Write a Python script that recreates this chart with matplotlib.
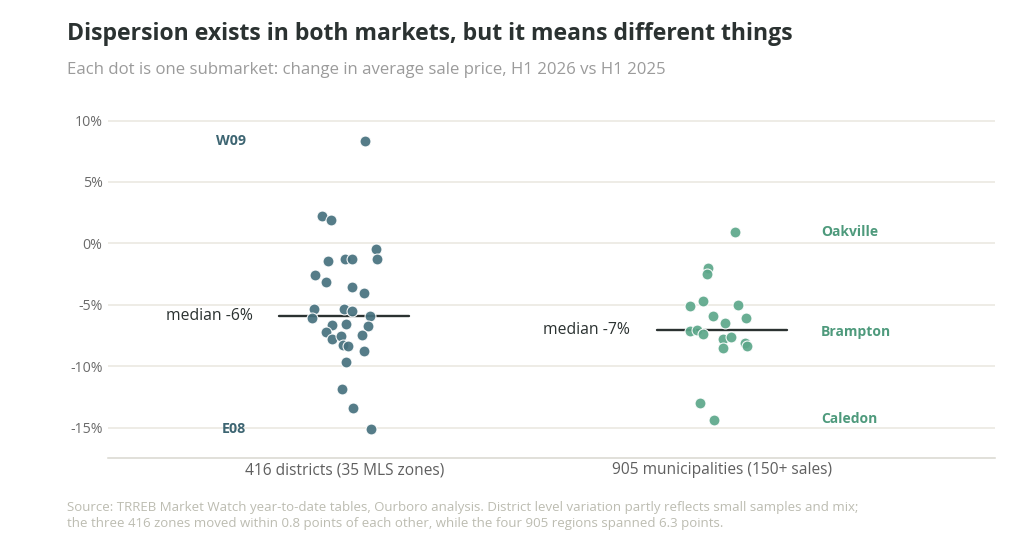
import numpy as np
import matplotlib
matplotlib.use("Agg")
import matplotlib.pyplot as plt

# change in average sale price, H1 2026 vs H1 2025 (%)
groups = ["416 districts (35 MLS zones)", "905 municipalities (150+ sales)"]

chg_416 = [8.34, 2.24, 1.89, -0.49, -1.25, -1.41, -1.25, -1.25, -2.58, -3.12,
           -3.53, -4.01, -5.34, -5.37, -5.50, -6.10, -5.91, -6.67, -6.59, -6.72,
           -7.18, -7.75, -7.51, -7.48, -8.29, -8.35, -8.78, -9.67, -11.82, -13.41,
           -15.07]
jit_416 = [0.055, -0.058, -0.036, 0.084, 0.086, -0.042, 0.002, 0.021, -0.078, -0.048,
           0.021, 0.051, -0.080, 0.000, 0.020, -0.085, 0.067, -0.033, 0.004, 0.063,
           -0.047, -0.033, -0.009, 0.046, -0.004, 0.011, 0.051, 0.004, -0.006, 0.023,
           0.071]

chg_905 = [0.89, -2.03, -2.50, -4.70, -5.07, -5.02, -5.91, -6.07, -6.50, -7.13,
           -7.05, -7.37, -7.75, -7.59, -8.13, -8.35, -8.49, -12.98, -14.37]
jit_905 = [0.034, -0.038, -0.041, -0.052, -0.084, 0.042, -0.024, 0.064, 0.007, -0.085,
           -0.067, -0.050, 0.001, 0.024, 0.060, 0.066, 0.001, -0.058, -0.022]

names_416 = ["W09", "E08"]
vals_416 = [8.34, -15.07]
names_905 = ["Oakville", "Brampton", "Caledon"]
vals_905 = [0.9, -7.2, -14.3]

yticks = [10, 5, 0, -5, -10, -15]

C416 = "#46717e"
C416_TXT = "#3d6572"
C905 = "#5ca78a"
C905_TXT = "#4e9a7c"
DARK = "#2b3231"
FONT = "Open Sans"

plt.rcParams["font.family"] = [FONT, "DejaVu Sans"]

fig = plt.figure(figsize=(10.24, 5.42), dpi=100)
ax = fig.add_axes([0.1055, 0.155, 0.8662, 0.6453])

ax.set_ylim(-17.46, 11)
ax.set_xlim(-0.625, 1.722)

for t in yticks:
    ax.axhline(t, color="#e9e7df", lw=1.1, zorder=0)

series = [(chg_416, jit_416, C416, C416_TXT, names_416, vals_416),
          (chg_905, jit_905, C905, C905_TXT, names_905, vals_905)]

for i, (vals, jit, col, tcol, names, nvals) in enumerate(series):
    vals = np.array(vals)
    xs = i + np.array(jit)
    med = np.median(vals)
    ax.plot([i - 0.172, i + 0.172], [med, med], color=DARK, lw=1.7,
            solid_capstyle="round", zorder=2)
    ax.scatter(xs, vals, s=62, color=col, edgecolor="white", linewidth=0.8,
               alpha=0.92, zorder=3)
    ax.text(i - 0.243, med, f"median {round(med):d}%", ha="right", va="center",
            fontsize=11.3, color=DARK, zorder=4)
    for n, v in zip(names, nvals):
        if i == 0:
            ax.text(i - 0.26, v, n, ha="right", va="center", fontsize=10.3,
                    fontweight="bold", color=tcol)
        else:
            ax.text(i + 0.261, v, n, ha="left", va="center", fontsize=10,
                    fontweight="bold", color=tcol)

ax.set_yticks(yticks)
ax.set_yticklabels([f"{t}%" for t in yticks])
ax.set_xticks([0, 1])
ax.set_xticklabels(groups)
ax.tick_params(axis="both", length=0, colors="#5f5f5f", labelsize=11.2)
ax.tick_params(axis="y", pad=4, colors="#6a6a6a", labelsize=10.2)
ax.tick_params(axis="x", pad=3)
for s in ["top", "right", "left"]:
    ax.spines[s].set_visible(False)
ax.spines["bottom"].set_color("#d9d7cf")
ax.spines["bottom"].set_linewidth(1.1)

fig.text(0.0655, 0.937, "Dispersion exists in both markets, but it means different things",
         fontsize=16.6, fontweight="bold", color=DARK, va="center")
fig.text(0.0655, 0.871, "Each dot is one submarket: change in average sale price, H1 2026 vs H1 2025",
         fontsize=12.1, color="#9b9b9b", va="center")
fig.text(0.0655, 0.064,
         "Source: TRREB Market Watch year-to-date tables, Ourboro analysis. District level variation partly reflects small samples and mix;",
         fontsize=9.5, color="#bcbcb1", va="center")
fig.text(0.0655, 0.035,
         "the three 416 zones moved within 0.8 points of each other, while the four 905 regions spanned 6.3 points.",
         fontsize=9.5, color="#bcbcb1", va="center")

fig.savefig("out.png", dpi=100, facecolor="white")
